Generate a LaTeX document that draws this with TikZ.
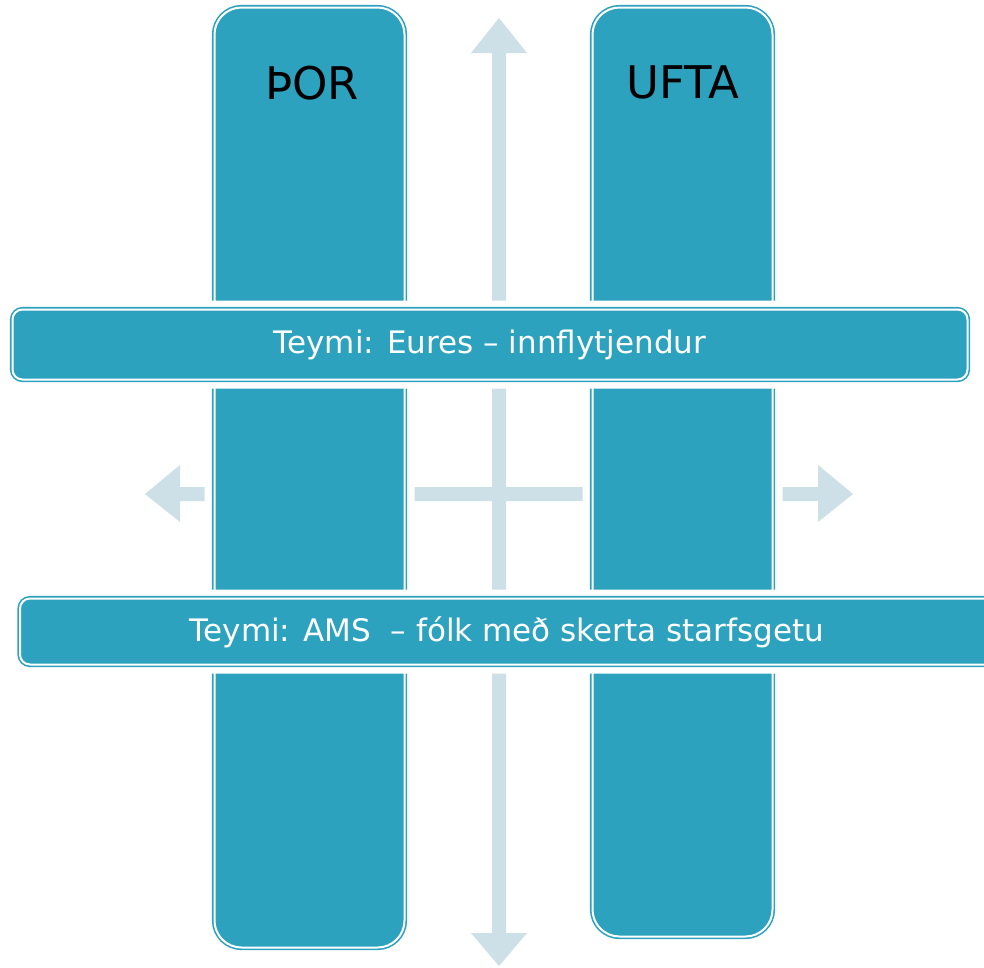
\documentclass[tikz,border=0pt]{standalone}
\usepackage{fontspec}
\setmainfont{DejaVu Sans}
\definecolor{teal1}{HTML}{2CA2BF}
\definecolor{arrowc}{HTML}{CDDFE7}
\tikzset{
  colbox/.style={draw=teal1, line width=1.6pt, double=white, double distance=2pt,
    fill=teal1, rounded corners=27pt, inner sep=0pt, outer sep=0pt,
    preaction={draw=white, line width=20pt}},
  bandbox/.style={draw=teal1, line width=1.6pt, double=white, double distance=2pt,
    fill=teal1, rounded corners=10pt, inner sep=0pt, outer sep=0pt,
    preaction={draw=white, line width=18pt}},
  coltext/.style={anchor=base, inner sep=0pt, font=\fontsize{45}{45}\selectfont, text=black},
  bandtext/.style={anchor=base, inner sep=0pt, font=\fontsize{31}{31}\selectfont, text=white},
  crossarrow/.style={fill=arrowc, draw=none}
}
\begin{document}
\begin{tikzpicture}[x=1pt,y=-1pt]
\useasboundingbox (0,0) rectangle (984,967);
\clip (0,0) rectangle (984,967);
\fill[white] (0,0) rectangle (984,967);
% cross arrow
\fill[crossarrow] (499,18) -- (527,53) -- (506,53) -- (506,487) -- (818,487) -- (818,465)
  -- (853,494) -- (818,522) -- (818,501) -- (506,501) -- (506,933) -- (527,933)
  -- (499,966) -- (471,933) -- (492,933) -- (492,501) -- (180,501) -- (180,522)
  -- (145,494) -- (180,465) -- (180,487) -- (492,487) -- (492,53) -- (471,53) -- cycle;
% columns
\node[colbox, minimum width=190pt, minimum height=940pt] (por) at (309.5,477.5) {};
\node[colbox, minimum width=180pt, minimum height=929pt] (ufta) at (682.5,472) {};
\node[coltext] (porlabel) at (312,99) {ÞOR};
\node[coltext] (uftalabel) at (683,98) {UFTA};
% bands
\node[bandbox, minimum width=955pt, minimum height=70pt] (band1) at (490,344.5) {};
\node[bandtext] (band1label) at (490,353) {Teymi: Eures – innflytjendur};
\node[bandbox, minimum width=988pt, minimum height=66pt] (band2) at (514,631.5) {};
\node[bandtext] (band2label) at (507,641) {Teymi: AMS\ \ – fólk með skerta starfsgetu};
\end{tikzpicture}
\end{document}
